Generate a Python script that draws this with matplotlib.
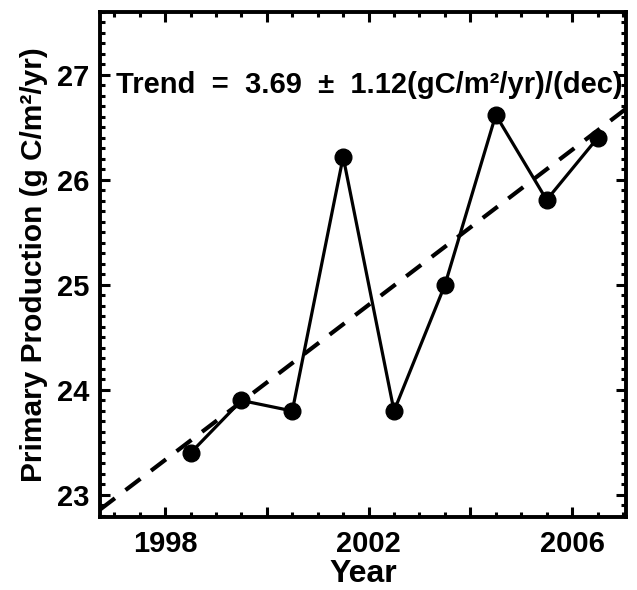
import matplotlib
matplotlib.use("Agg")
import matplotlib.pyplot as plt
import numpy as np
from matplotlib.ticker import MultipleLocator

plt.rcParams['font.family'] = ['Liberation Sans', 'DejaVu Sans']
plt.rcParams['font.weight'] = 'bold'

# data (mid-year times)
time = [1998.5, 1999.5, 2000.5, 2001.5, 2002.5, 2003.5, 2004.5, 2005.5, 2006.5]
production = [23.4, 23.9, 23.8, 26.22, 23.8, 25.0, 26.62, 25.81, 26.4]
xtick_labels = [1998, 2002, 2006]
ytick_labels = [23, 24, 25, 26, 27]
trend_text = "Trend  =  3.69  \u00b1  1.12(gC/m\u00b2/yr)/(dec)"

fig = plt.figure(figsize=(6.37, 5.90), dpi=100)
ax = fig.add_axes([100/637, 73/590, 526/637, 505/590])

xlim = (1996.72, 2007.06)
ylim = (22.79, 27.6)

# trend line
coef = np.polyfit(time, production, 1)
xx = np.array(xlim)
ax.plot(xx, np.polyval(coef, xx), color='black', lw=3.0, ls=(0, (4.5, 3.2)))

ax.plot(time, production, color='black', lw=2.3, marker='o', markersize=12)

ax.set_xlim(*xlim)
ax.set_ylim(*ylim)

ax.xaxis.set_major_locator(MultipleLocator(2))
ax.xaxis.set_minor_locator(MultipleLocator(0.5))
ax.yaxis.set_major_locator(MultipleLocator(1))
ax.yaxis.set_minor_locator(MultipleLocator(0.1))

def xfmt(v, pos):
    iv = int(round(v))
    return str(iv) if iv in xtick_labels else ''
def yfmt(v, pos):
    iv = int(round(v))
    return str(iv) if iv in ytick_labels else ''
ax.xaxis.set_major_formatter(plt.FuncFormatter(xfmt))
ax.yaxis.set_major_formatter(plt.FuncFormatter(yfmt))

ax.tick_params(which='both', direction='in', top=True, right=True, width=2.2, labelsize=21)
ax.tick_params(which='major', length=7.5)
ax.tick_params(which='minor', length=3.5)
ax.tick_params(axis='x', pad=9)
ax.tick_params(axis='y', pad=8)

for s in ax.spines.values():
    s.set_linewidth(2.8)

ax.set_xlabel('Year', fontsize=23, fontweight='bold', labelpad=1)
ax.set_ylabel('Primary Production (g C/m\u00b2/yr)', fontsize=21.5, fontweight='bold', labelpad=6)

ax.text(1997.03, 26.83, trend_text, fontsize=21, fontweight='bold', ha='left', va='baseline')

fig.savefig('out.png', dpi=100)
